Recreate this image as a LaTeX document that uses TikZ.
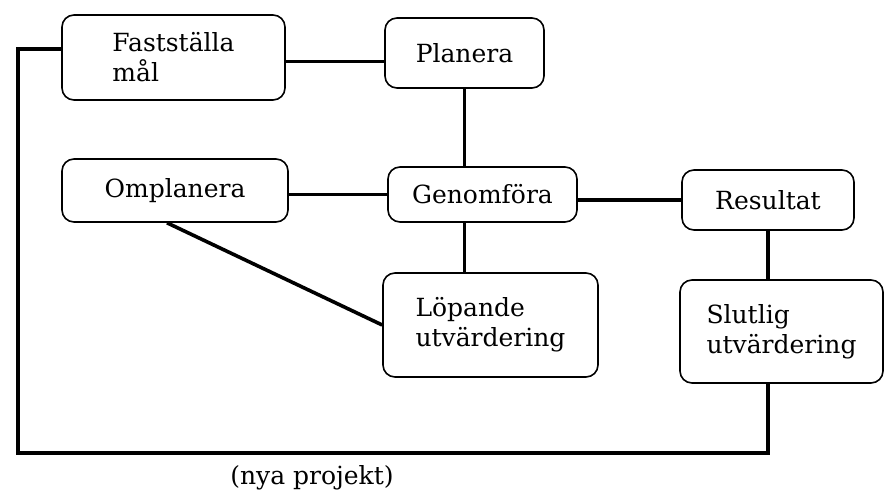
\documentclass[tikz,border=0pt]{standalone}
\usepackage{fontspec}
\setmainfont{DejaVu Serif}
\usetikzlibrary{positioning, calc}

\begin{document}
\begin{tikzpicture}[x=1pt, y=-1pt,
            box/.style={draw, line width=1.6pt, rounded corners=12pt, align=left, inner sep=0pt, font=\fontsize{25}{30}\selectfont},
            link/.style={line width=3.6pt}
        ]
            \useasboundingbox (0,0) rectangle (885,495);

            \node[box, minimum width=223pt, minimum height=85pt] (fast) at (173.5,57.5) {Fastställa\\mål};
            \node[box, minimum width=159pt, minimum height=70pt] (plan) at (464.5,53) {Planera};
            \node[box, minimum width=226pt, minimum height=63pt] (omp) at (175,190.5) {Omplanera};
            \node[box, minimum width=189pt, minimum height=55pt] (gen) at (482.5,194.5) {Genomföra};
            \node[box, minimum width=172pt, minimum height=60pt] (res) at (768,200) {Resultat};
            \node[box, minimum width=215pt, minimum height=104pt] (lop) at (490.5,325) {Löpande\\utvärdering};
            \node[box, minimum width=203pt, minimum height=103pt] (slut) at (781.5,331.5) {Slutlig\\utvärdering};

            \draw[link] ([yshift=-4pt]fast.east) coordinate (fe) -- (fe -| plan.west);
            \draw[link] (plan.south) -- (plan.south |- gen.north);
            \draw[link] (gen.west) -- (gen.west -| omp.east);
            \draw[link] (res.west) -- (res.west -| gen.east);
            \draw[link] (gen.south -| plan.south) -- (lop.north -| plan.south);
            \draw[link] ([xshift=-8pt]omp.south) -- (lop.west);
            \draw[link] (res.south) -- (res.south |- slut.north);

            % back to the start
            \coordinate (back) at (18,453);
            \draw[link] (slut.south -| res.south) |- (back) |- ([yshift=8.5pt]fast.west);

            \node[font=\fontsize{25}{30}\selectfont] (nya) at (312,478) {(nya projekt)};
        \end{tikzpicture}
\end{document}
